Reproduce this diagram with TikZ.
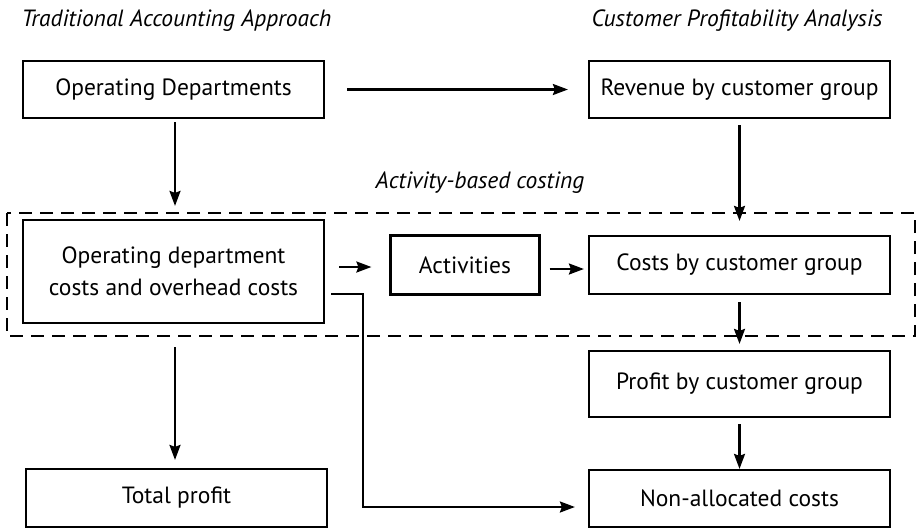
\documentclass[tikz,border=0pt]{standalone}
\usepackage{fontspec}
\setmainfont{PT Sans}
\usetikzlibrary{calc,arrows.meta}

\begin{document}
\begin{tikzpicture}[x=1pt, y=-1pt, >={Stealth[length=15pt,width=11pt,inset=2pt]},
    every node/.style={font=\fontsize{23.5}{32}\selectfont},
    box/.style={draw, line width=2.2pt, minimum width=301pt, align=center, inner sep=0pt},
    title/.style={font=\fontsize{23.5}{28}\selectfont\itshape},
    link/.style={->, line width=2.2pt}]

  \useasboundingbox (0,0) rectangle (916,528);

  % headings
  \node[title, anchor=west] (trad) at (18,21) {Traditional Accounting Approach};
  \node[title, anchor=east] (cpa) at (886,21) {Customer Profitability Analysis};
  \node[title] (abc) at (480,183) {Activity-based costing};

  % activity-based costing frame
  \draw[line width=2.2pt, dash pattern=on 13pt off 8pt] (7,213) rectangle (915,336);

  % boxes
  \node[box, minimum height=57pt] (opdep) at (173.5,89.5) {Operating Departments};
  \node[box, minimum height=57pt] (revenue) at (739.5,89.5) {Revenue by customer group};
  \node[box, minimum height=103pt] (odcosts) at (173.5,271.5)
    {Operating department\\costs and overhead costs};
  \node[box, minimum width=149pt, minimum height=59pt] (act) at (465,265) {Activities};
  \node[box, minimum height=58pt] (costs) at (739.5,265) {Costs by customer group};
  \node[box, minimum height=66pt] (profit) at (739.5,384) {Profit by customer group};
  \node[box, minimum height=58pt] (total) at (176.5,498) {Total profit};
  \node[box, minimum height=57pt] (nonalloc) at (739.5,498.5) {Non-allocated costs};

  % connectors
  \draw[link, shorten <=22pt, shorten >=20pt] (opdep.east) -- (revenue.west);
  \draw[link, shorten <=3pt, shorten >=13pt] ([xshift=1.5pt]opdep.south) -- ([xshift=1.5pt]odcosts.north);
  \draw[link, shorten <=6pt, shorten >=14pt] (revenue.south) -- (costs.north);
  \draw[link, shorten <=14pt, shorten >=18pt] ([yshift=4.5pt]odcosts.east) -- ([yshift=-2pt]act.west);
  \draw[link, shorten <=9pt, shorten >=4pt] ([yshift=-4pt]act.east) -- ([yshift=-4pt]costs.west);
  \draw[link, shorten <=7pt, shorten >=6pt] (costs.south) -- (profit.north);
  \draw[link, shorten <=6pt, shorten >=0pt] (profit.south) -- (nonalloc.north);
  \draw[link, shorten <=23pt, shorten >=8pt] ([xshift=1.5pt]odcosts.south) -- ([xshift=-1.5pt]total.north);
  \draw[link] ([xshift=6pt,yshift=-22.5pt]odcosts.east) -- ++(32,0)
    |- ([xshift=-13pt,yshift=-8.5pt]nonalloc.west);
\end{tikzpicture}
\end{document}
